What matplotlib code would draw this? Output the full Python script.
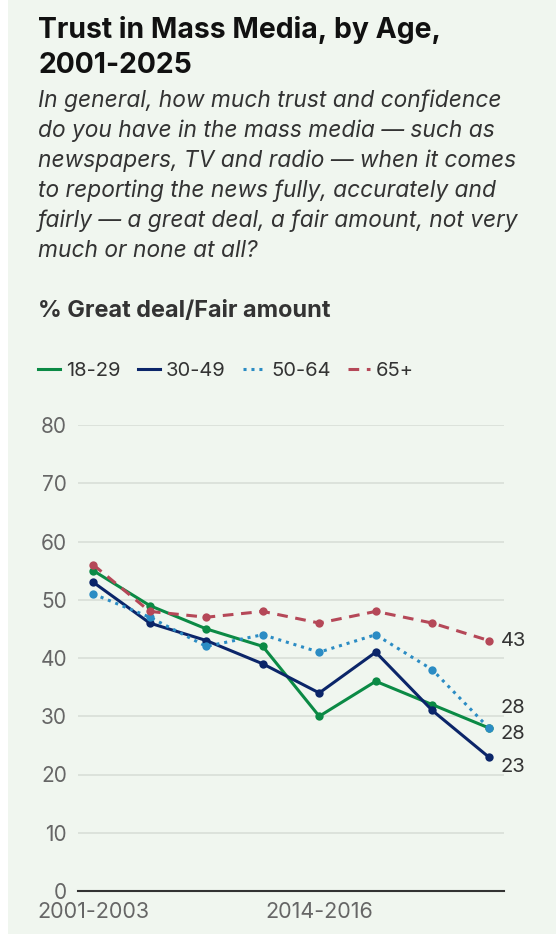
import matplotlib
matplotlib.use("Agg")
import matplotlib.pyplot as plt
from matplotlib.patches import Rectangle
from matplotlib.lines import Line2D

periods = ["2001-2003", "2004-2006", "2007-2009", "2010-2013",
           "2014-2016", "2017-2019", "2020-2022", "2023-2025"]
shown_ticks = ["2001-2003", "2014-2016"]
age_18_29 = [55, 49, 45, 42, 30, 36, 32, 28]
age_30_49 = [53, 46, 43, 39, 34, 41, 31, 23]
age_50_64 = [51, 47, 42, 44, 41, 44, 38, 28]
age_65p = [56, 48, 47, 48, 46, 48, 46, 43]
series_names = ["18-29", "30-49", "50-64", "65+"]
y_ticks = [0, 10, 20, 30, 40, 50, 60, 70, 80]

plt.rcParams['font.family'] = ['Inter', 'DejaVu Sans']

W, H = 560, 934
fig = plt.figure(figsize=(W / 100, H / 100), dpi=100, facecolor="white")
fig.patches.append(Rectangle((8 / W, 0), (556 - 8) / W, 1, transform=fig.transFigure,
                             facecolor="#f0f6ef", edgecolor="none", zorder=-10))

def fy(py):
    return 1 - py / H

# Title and subtitle
fig.text(38 / W, fy(38), "Trust in Mass Media, by Age,", fontsize=20.4, fontweight="bold",
         color="#111111", va="baseline")
fig.text(38 / W, fy(73), "2001-2025", fontsize=20.4, fontweight="bold",
         color="#111111", va="baseline")
sub = ["In general, how much trust and confidence",
       "do you have in the mass media \u2014 such as",
       "newspapers, TV and radio \u2014 when it comes",
       "to reporting the news fully, accurately and",
       "fairly \u2014 a great deal, a fair amount, not very",
       "much or none at all?"]
for i, line in enumerate(sub):
    fig.text(38 / W, fy(107 + 30 * i), line, fontsize=16.4, style="italic",
             color="#333333", va="baseline")
fig.text(38 / W, fy(317), "% Great deal/Fair amount", fontsize=16.9, fontweight="bold",
         color="#333333", va="baseline")

colors = ["#0b8a45", "#0b2569", "#2b8cc4", "#b54858"]
styles = ["-", "-", (0, (1, 1.6)), (0, (3.5, 2.5))]
data = [age_18_29, age_30_49, age_50_64, age_65p]

ax = fig.add_axes([78 / W, 43 / H, (504 - 78) / W, (509 - 43) / H])
ax.set_facecolor("none")
x = list(range(len(periods)))
for vals, c, ls in zip(data, colors, styles):
    ax.plot(x, vals, color=c, lw=2.2, ls=ls, marker="o", markersize=6,
            markeredgewidth=0, clip_on=False, zorder=3)

ax.set_xlim(-0.27, 7.27)
ax.set_ylim(0, 80)
ax.set_yticks(y_ticks)
ax.set_yticklabels([str(t) for t in y_ticks])
ax.grid(axis="y", color="#d9dfd8", lw=1.2)
ax.set_axisbelow(True)
ax.tick_params(axis="y", length=0, pad=8, labelsize=15, labelcolor="#666666")
ax.set_xticks([periods.index(t) for t in shown_ticks])
ax.set_xticklabels(shown_ticks)
ax.tick_params(axis="x", length=0, pad=8, labelsize=15.5, labelcolor="#666666")
for s in ["top", "right", "left"]:
    ax.spines[s].set_visible(False)
ax.spines["bottom"].set_color("#333333")
ax.spines["bottom"].set_linewidth(1.5)

# end labels (pixel offsets to keep them apart)
ends = [(age_18_29[-1], -6), (age_30_49[-1], -10), (age_50_64[-1], 20), (age_65p[-1], 0)]
for v, dy in ends:
    ax.annotate(str(v), xy=(x[-1], v), xytext=(12, dy), textcoords="offset pixels",
                fontsize=14.5, color="#333333", va="center", ha="left",
                annotation_clip=False)

# legend
handles = [Line2D([0], [0], color=c, lw=2.2, ls=ls) for c, ls in zip(colors, styles)]
fig.legend(handles, series_names, loc="center left", bbox_to_anchor=(38 / W, fy(371)),
           ncol=4, frameon=False, fontsize=14.5, handlelength=1.1, handletextpad=0.3,
           columnspacing=0.85, labelcolor="#333333", borderpad=0, borderaxespad=0)

fig.savefig("out.png", dpi=100, facecolor=fig.get_facecolor())
